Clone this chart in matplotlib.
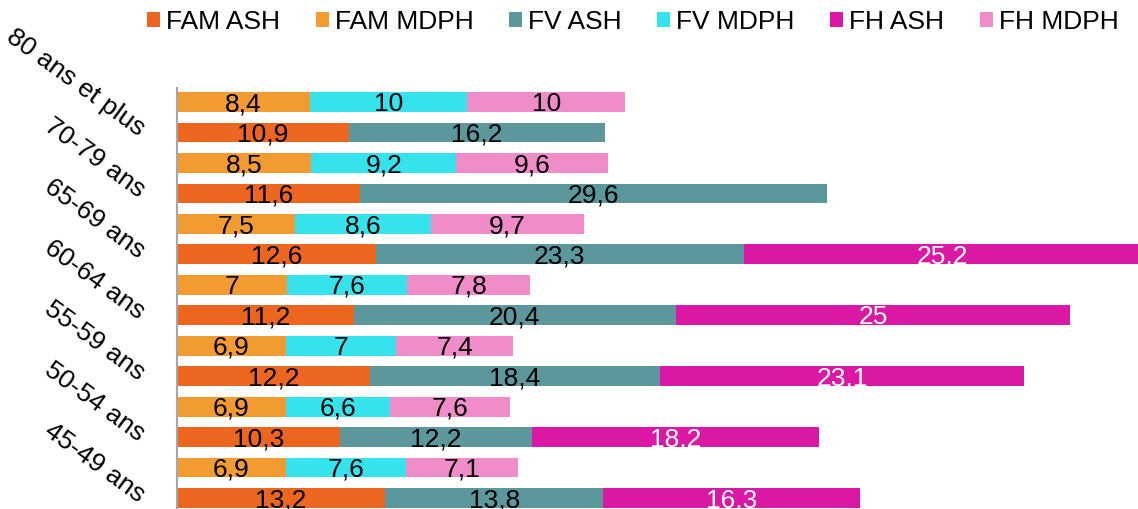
import matplotlib
matplotlib.use("Agg")
import matplotlib.pyplot as plt
from matplotlib.patches import Patch

plt.rcParams['font.family'] = ['Liberation Sans', 'DejaVu Sans']

categories = ["80 ans et plus", "70-79 ans", "65-69 ans", "60-64 ans",
              "55-59 ans", "50-54 ans", "45-49 ans"]

# ASH bars
fam_ash = [10.9, 11.6, 12.6, 11.2, 12.2, 10.3, 13.2]
fv_ash = [16.2, 29.6, 23.3, 20.4, 18.4, 12.2, 13.8]
fh_ash = [0, 0, 25.2, 25.0, 23.1, 18.2, 16.3]
# MDPH bars
fam_mdph = [8.4, 8.5, 7.5, 7.0, 6.9, 6.9, 6.9]
fv_mdph = [10.0, 9.2, 8.6, 7.6, 7.0, 6.6, 7.6]
fh_mdph = [10.0, 9.6, 9.7, 7.8, 7.4, 7.6, 7.1]

series_names = ["FAM ASH", "FAM MDPH", "FV ASH", "FV MDPH", "FH ASH", "FH MDPH"]
colors = {"FAM ASH": "#EC6620", "FAM MDPH": "#F29B30", "FV ASH": "#5B979B",
          "FV MDPH": "#36E2EB", "FH ASH": "#DA18A3", "FH MDPH": "#F08CC8"}
text_colors = {"FH ASH": "white"}

fig = plt.figure(figsize=(11.38, 5.09), dpi=100)
ax = fig.add_axes([177/1138, 0, 961/1138, 421/509])

bh = 0.65
fs = 19

def fmt(v):
    s = ("%g" % v).replace(".", ",")
    return s

def draw_stack(ypos, segs):
    for k, y in enumerate(ypos):
        left = 0
        for name, vals in segs:
            v = vals[k]
            if v <= 0:
                continue
            ax.barh(y, v, left=left, height=bh, color=colors[name],
                    edgecolor='none')
            ax.text(left + v/2, y + 0.30, fmt(v), ha='center', va='baseline',
                    fontsize=fs, color=text_colors.get(name, 'black'),
                    clip_on=True)
            left += v

n = len(categories)
mdph_pos = [2*k for k in range(n)]
ash_pos = [2*k + 1 for k in range(n)]
draw_stack(mdph_pos, [("FAM MDPH", fam_mdph), ("FV MDPH", fv_mdph), ("FH MDPH", fh_mdph)])
draw_stack(ash_pos, [("FAM ASH", fam_ash), ("FV ASH", fv_ash), ("FH ASH", fh_ash)])

ax.set_xlim(0, 60.9)
ax.set_ylim(13.36, -0.46)
for s in ["top", "right", "bottom"]:
    ax.spines[s].set_visible(False)
ax.spines["left"].set_color("#A6A6A6")
ax.spines["left"].set_linewidth(1.5)
ax.set_xticks([])
ax.set_yticks([])

for k, lab in enumerate(categories):
    ax.text(-2.47, 2*k + 1.15, lab, rotation=-36, rotation_mode='anchor',
            ha='right', va='baseline', fontsize=fs, color='black', clip_on=False)

handles = [Patch(facecolor=colors[nm], edgecolor='none', label=nm) for nm in series_names]
fig.legend(handles=handles, loc='center left', bbox_to_anchor=(147/1138, 1 - 22/509),
           ncol=6, frameon=False, fontsize=fs, handlelength=0.49, handleheight=0.49,
           handletextpad=0.23, columnspacing=1.35, borderpad=0, borderaxespad=0)

fig.savefig("out.png", dpi=100)
